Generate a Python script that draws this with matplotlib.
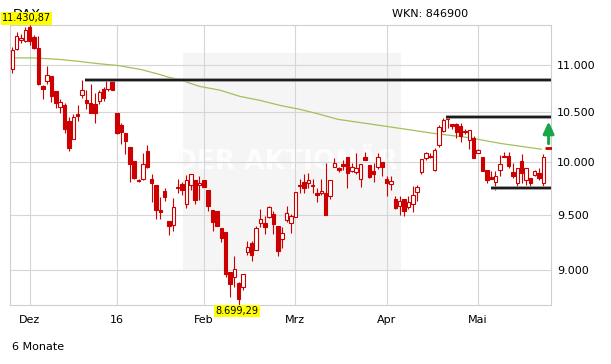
import matplotlib
matplotlib.use('Agg')
import matplotlib.pyplot as plt
import matplotlib.transforms as mtransforms
from matplotlib.patches import Rectangle
from matplotlib.ticker import FixedLocator, NullLocator, FuncFormatter

# DAX Tageskerzen 25.11.2015 - 24.05.2016
opens = [10958, 11173, 11273, 11256, 11414, 11299, 11176, 10774, 10830, 10879,
         10722, 10552, 10577, 10413, 10236, 10480, 10676, 10632, 10601, 10590,
         10620, 10743, 10743, 10850,
         10490, 10370, 10290, 10153, 10013, 9834, 9840, 10110, 9840, 9786,
         9551, 9727, 9442, 9409, 9752, 9796, 9604, 9780, 9834, 9780,
         9834, 9733, 9551, 9536, 9385, 9342, 8983, 8940, 8889, 8854,
         9164, 9245, 9179, 9427, 9427, 9482, 9512, 9403, 9282, 9458, 9427,
         9479, 9786, 9811, 9802, 9771, 9705, 9705, 9702, 9677, 9953,
         9950, 9981, 10057, 9912, 9903, 9840, 10057, 9972, 9912, 9959, 10003,
         9843, 9793, 9651, 9582, 9654, 9572, 9604, 9717, 9903, 10047,
         10067, 9930, 10167, 10307, 10457, 10380, 10380, 10357, 10310, 10217, 10240,
         10090, 10050, 9928, 9859, 9808, 9928, 10063, 10063, 9906, 9802,
         10017, 9827, 9849, 9877, 9896, 9802]
highs = [11191, 11353, 11335, 11414, 11430.87, 11320, 11317, 10785, 10990, 10879,
         10722, 10636, 10600, 10456, 10483, 10573, 10837, 10736, 10795, 10705,
         10729, 10760, 10850, 10850,
         10490, 10390, 10290, 10153, 10013, 9840, 10097, 10173, 9890, 9786,
         9670, 9755, 9442, 9660, 9840, 9810, 9880, 9887, 9834, 9865,
         9834, 9733, 9551, 9536, 9385, 9342, 8983, 9130, 8895, 8966,
         9258, 9264, 9397, 9560, 9494, 9585, 9536, 9403, 9391, 9585, 9510,
         9718, 9840, 9890, 9896, 9840, 9755, 9840, 9990, 9830, 10040,
         9960, 10023, 10057, 9990, 10097, 9987, 10107, 9972, 9990, 10097, 10003,
         9865, 9865, 9677, 9677, 9654, 9677, 9770, 9780, 10030, 10107,
         10097, 10140, 10373, 10447, 10463, 10380, 10397, 10397, 10330, 10323, 10257,
         10130, 10057, 9928, 9912, 9912, 10073, 10107, 10107, 9990, 9950,
         10080, 9943, 9849, 9922, 9943, 10083]
lows = [10913, 11162, 11234, 11248, 11209, 11170, 10781, 10636, 10799, 10611,
        10549, 10497, 10296, 10113, 10236, 10416, 10649, 10538, 10490, 10396,
        10590, 10622, 10726, 10736,
        10280, 10183, 10083, 9808, 9840, 9815, 9834, 9950, 9617, 9460,
        9460, 9629, 9315, 9351, 9708, 9687, 9563, 9733, 9598, 9643,
        9761, 9536, 9351, 9397, 9255, 8945, 8774, 8860, 8699.29, 8830,
        9133, 9082, 9179, 9391, 9330, 9473, 9330, 9124, 9200, 9436, 9336,
        9479, 9708, 9708, 9755, 9708, 9620, 9692, 9497, 9645, 9953,
        9903, 9925, 9755, 9905, 9890, 9761, 10020, 9850, 9808, 9940, 9871,
        9677, 9739, 9556, 9503, 9488, 9556, 9525, 9629, 9890, 10023,
        10040, 9918, 10147, 10297, 10340, 10330, 10240, 10203, 10280, 10130, 10040,
        10090, 9912, 9802, 9843, 9739, 9871, 10050, 9950, 9849, 9771,
        9802, 9780, 9771, 9870, 9830, 9771]
closes = [11162, 11313, 11290, 11378, 11256, 11176, 10792, 10747, 10885, 10674,
          10594, 10608, 10336, 10137, 10450, 10467, 10729, 10594, 10497, 10490,
          10715, 10646, 10850, 10736,
          10290, 10306, 10216, 9981, 9846, 9818, 9981, 9959, 9799, 9545,
          9526, 9667, 9397, 9573, 9767, 9733, 9830, 9887, 9639, 9805,
          9761, 9582, 9433, 9397, 9288, 8971, 8880, 9017, 8752, 8966,
          9206, 9136, 9382, 9464, 9391, 9573, 9415, 9170, 9336, 9519, 9494,
          9718, 9771, 9755, 9830, 9786, 9692, 9727, 9497, 9830, 9990,
          9931, 9969, 9893, 9956, 9950, 9987, 10023, 9855, 9887, 10050, 9959,
          9802, 9821, 9566, 9635, 9535, 9623, 9692, 9764, 10030, 10090,
          10053, 10123, 10350, 10423, 10433, 10363, 10297, 10257, 10297, 10317, 10040,
          10123, 9921, 9827, 9843, 9865, 9981, 10050, 9963, 9865, 9950,
          9896, 9943, 9802, 9912, 9849, 10057]

# Monatsanfaenge (Kerzen-Index) und Beschriftung
month_pos = [4, 24, 44, 65, 86, 107]
month_labels = ['Dez', '16', 'Feb', 'Mrz', 'Apr', 'Mai']
y_ticks = [9000, 9500, 10000, 10500, 11000]

ma_idx = [-0.5, 4.8, 10.5, 15.6, 18.2, 20.2, 24.3, 29.6, 33.9, 35.8, 38.5, 40.8,
          43.1, 47.7, 52.3, 56.9, 61.5, 66.1, 70.7, 74.8, 82.2, 89.3, 97.0,
          104.7, 112.3, 117.7, 121.5]
ma_val = [11073, 11073, 11058, 11034, 11019, 11009, 10991, 10948, 10895, 10867,
          10842, 10803, 10769, 10730, 10665, 10624, 10572, 10531, 10480, 10429,
          10382, 10336, 10286, 10246, 10186, 10153, 10130]

# Widerstands-/Unterstuetzungslinien
res_levels = [10840, 10455, 9752]
res_start = [16.6, 99.6, 110.0]

current_price = 10137
high_label = '11.430,87'
low_label = '8.699,29'

RED = '#cc0000'
W, H = 611, 364

fig = plt.figure(figsize=(W / 100, H / 100), dpi=100)
ax = fig.add_axes([10 / W, 1 - 305.3 / H, 541 / W, 280 / H])

n = len(closes)
ax.set_yscale('log')
ax.set_ylim(min(lows), max(highs))
ax.set_xlim(-0.53, n + 0.75)

# grauer Kasten mit Wasserzeichen
ax.add_patch(Rectangle((0.32, 0.126), 0.403, 0.775, transform=ax.transAxes,
                       facecolor='#f5f5f5', edgecolor='none', zorder=0.1))
ax.text(0.512, 0.512, 'DER AKTIONÄR', transform=ax.transAxes, ha='center',
        va='center', fontsize=19, fontweight='bold', color='#fdfdfd', zorder=0.2)

ax.set_axisbelow(True)
ax.grid(True, color='#d6d6d6', lw=0.8)
for s in ax.spines.values():
    s.set_color('#cfcfcf')
    s.set_linewidth(0.8)

ax.yaxis.tick_right()
ax.yaxis.set_major_locator(FixedLocator(y_ticks))
ax.yaxis.set_minor_locator(NullLocator())
ax.yaxis.set_major_formatter(FuncFormatter(lambda v, p: f'{v:,.0f}'.replace(',', '.')))
ax.xaxis.set_major_locator(FixedLocator(month_pos))
ax.set_xticklabels(month_labels)
ax.tick_params(axis='y', length=0, pad=4.5, labelsize=8)
ax.tick_params(axis='x', length=0, pad=7, labelsize=8)

# gleitender Durchschnitt
ax.plot(ma_idx, ma_val, color='#a3c05a', lw=0.9, zorder=2)

# Kerzen
bw = 0.8
for i in range(n):
    o, h, l, c = opens[i], highs[i], lows[i], closes[i]
    ax.vlines(i, l, h, color=RED, lw=0.8, zorder=3)
    ax.add_patch(Rectangle((i - bw / 2, min(o, c)), bw, abs(c - o),
                           facecolor=RED if c < o else 'white',
                           edgecolor=RED, lw=0.8, zorder=4))

# Linien
for lvl, x0 in zip(res_levels, res_start):
    ax.hlines(lvl, x0, n + 0.75, color='#8a8a8a', lw=2.6, zorder=5)
    ax.hlines(lvl, x0, n + 0.75, color='#111111', lw=1.3, zorder=6)

# aktueller Kurs mit Pfeil
xc = n + 0.2
ax.plot([xc], [current_price], marker='_', ms=6, mew=2, color=RED, zorder=7)
tip = mtransforms.offset_copy(ax.transData, fig=fig, x=0, y=19.5, units='points')
tail = mtransforms.offset_copy(ax.transData, fig=fig, x=0, y=3.5, units='points')
ax.annotate('', xy=(xc, current_price), xycoords=tip,
            xytext=(xc, current_price), textcoords=tail,
            arrowprops=dict(arrowstyle='-|>,head_width=0.32,head_length=0.7',
                            color='#19a64a', lw=2.2, shrinkA=0, shrinkB=0),
            zorder=7, annotation_clip=False)

# Titel (teilweise vom Hoch-Etikett verdeckt, wie im Original)
fig.text(13 / W, 1 - 18.5 / H, 'DAX', fontsize=9.5, va='baseline')
fig.text(2 / W, 1 - 18.5 / H, high_label, fontsize=7, ha='left', va='center',
         bbox=dict(boxstyle='square,pad=0.12', facecolor='#ffff00', edgecolor='none'))
trans = mtransforms.blended_transform_factory(ax.transData, ax.transAxes)
ax.text(lows.index(min(lows)) - 0.4, -0.021, low_label, transform=trans, fontsize=7,
        ha='center', va='center', clip_on=False,
        bbox=dict(boxstyle='square,pad=0.12', facecolor='#ffff00', edgecolor='none'))

fig.text(392 / W, 1 - 14 / H, 'WKN: 846900', fontsize=8, va='center')
fig.text(12 / W, 1 - 347 / H, '6 Monate', fontsize=8, va='center')

fig.savefig('out.png', dpi=100)
